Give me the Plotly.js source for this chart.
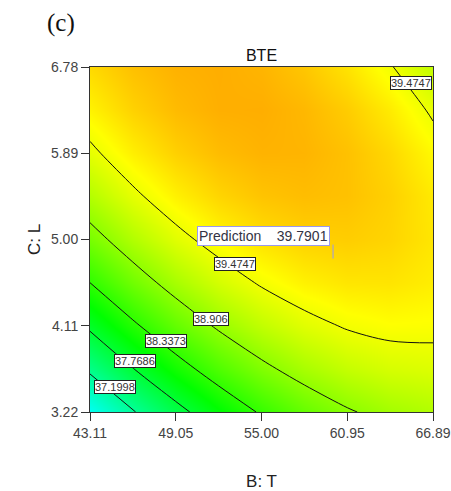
<!DOCTYPE html>
<html>
<head>
<meta charset="utf-8">
<script src="https://cdn.plot.ly/plotly-3.0.1.min.js"></script>
<style>html,body{margin:0;padding:0;background:#fff;}#chart{width:451px;height:491px;}</style>
</head>
<body>
<div id="chart"></div>
<script>
// Factor B: T (x grid) and C: L (y grid)
var tempT = [43.11, 46.08, 49.05, 52.03, 55.00, 57.97, 60.95, 63.92, 66.89];
var lenL = [3.22, 3.665, 4.11, 4.555, 5.00, 5.445, 5.89, 6.335, 6.78];
// BTE response (rows = L, columns = T)
var bteRows = [
  [36.639, 37.169, 37.636, 38.040, 38.380, 38.657, 38.871, 39.022, 39.109],
  [37.275, 37.757, 38.176, 38.532, 38.825, 39.054, 39.221, 39.324, 39.363],
  [37.841, 38.276, 38.647, 38.956, 39.201, 39.382, 39.501, 39.556, 39.548],
  [38.338, 38.725, 39.049, 39.310, 39.507, 39.641, 39.712, 39.719, 39.664],
  [38.766, 39.105, 39.382, 39.594, 39.744, 39.830, 39.854, 39.813, 39.710],
  [39.125, 39.416, 39.645, 39.810, 39.912, 39.951, 39.926, 39.838, 39.687],
  [39.414, 39.658, 39.839, 39.956, 40.011, 40.002, 39.929, 39.794, 39.595],
  [39.634, 39.831, 39.964, 40.033, 40.040, 39.983, 39.863, 39.680, 39.434],
  [39.785, 39.934, 40.019, 40.041, 40.000, 39.896, 39.728, 39.497, 39.203]
];
// contour levels shown on the plot
var levels = [37.1998, 37.7686, 38.3373, 38.906, 39.4747];
var levelLabels = ['37.1998', '37.7686', '38.3373', '38.906', '39.4747', '39.4747'];
var labelT = [44.84, 46.20, 48.41, 51.50, 53.16, 65.36];
var labelL = [3.474, 3.743, 3.955, 4.182, 4.746, 6.614];
var xTicks = [43.11, 49.05, 55.00, 60.95, 66.89];
var xTickText = ['43.11', '49.05', '55.00', '60.95', '66.89'];
var yTicks = [3.22, 4.11, 5.00, 5.89, 6.78];
var yTickText = ['3.22', '4.11', '5.00', '5.89', '6.78'];
var predValue = '39.7901';

var F = 'Liberation Sans, Arial, sans-serif';
var cs = [[0, 'rgb(0,0,255)'], [0.25, 'rgb(0,255,255)'], [0.5, 'rgb(0,255,0)'], [0.75, 'rgb(255,255,0)'], [1, 'rgb(255,0,0)']];

var traces = [
  {type: 'heatmap', x: tempT, y: lenL, z: bteRows, colorscale: cs, zmin: 35.08, zmax: 41.06,
   zsmooth: 'best', showscale: false, hoverinfo: 'skip'},
  {type: 'contour', x: tempT, y: lenL, z: bteRows, showscale: false, hoverinfo: 'skip',
   contours: {coloring: 'none', start: levels[0], end: levels[levels.length - 1] + 0.001,
              size: (levels[levels.length - 1] - levels[0]) / (levels.length - 1), showlines: true},
   line: {color: '#111', width: 1, smoothing: 1.0}}
];

var ann = [];
for (var i = 0; i < levelLabels.length; i++) {
  ann.push({x: labelT[i], y: labelL[i], xref: 'x', yref: 'y', text: levelLabels[i], showarrow: false,
    font: {family: F, size: 11, color: '#333'}, bgcolor: '#fff', bordercolor: '#222', borderwidth: 1, borderpad: 0});
}
ann.push({x: 55.14, y: 5.041, xref: 'x', yref: 'y',
  text: 'Prediction&nbsp;&nbsp;&nbsp;&nbsp;' + predValue, showarrow: false,
  font: {family: F, size: 14, color: '#333344'}, bgcolor: '#fff', bordercolor: '#9999ee', borderwidth: 1, borderpad: 1});
ann.push({xref: 'paper', yref: 'paper', x: -0.085, y: 1.1275, text: '(c)', showarrow: false,
  font: {family: 'Liberation Serif, Times New Roman, serif', size: 25, color: '#111'}, xanchor: 'center', yanchor: 'middle'});

var layout = {
  width: 451, height: 491,
  margin: {l: 90, r: 18, t: 67, b: 79},
  paper_bgcolor: '#fff', plot_bgcolor: '#fff',
  font: {family: F, size: 14, color: '#444'},
  title: {text: 'BTE', font: {family: F, size: 16, color: '#111'}, x: 0.5, xanchor: 'center', xref: 'paper',
          y: 1 - 55 / 491, yref: 'container', yanchor: 'middle'},
  xaxis: {range: [43.11, 66.89], tickvals: xTicks, ticktext: xTickText, ticks: 'outside', ticklen: 8,
          tickcolor: '#333', showline: true, linecolor: '#333', linewidth: 1, mirror: true, showgrid: false,
          zeroline: false, tickfont: {family: F, size: 14, color: '#444'},
          title: {text: 'B: T', font: {family: F, size: 17, color: '#222'}, standoff: 36}},
  yaxis: {range: [3.22, 6.78], tickvals: yTicks, ticktext: yTickText, ticks: 'outside', ticklen: 8,
          tickcolor: '#333', showline: true, linecolor: '#333', linewidth: 1, mirror: true, showgrid: false,
          zeroline: false, tickfont: {family: F, size: 14, color: '#444'},
          title: {text: 'C: L', font: {family: F, size: 17, color: '#222'}, standoff: 6}},
  shapes: [{type: 'line', xref: 'x', yref: 'y', x0: 59.96, x1: 59.96, y0: 4.948, y1: 4.803,
            line: {color: '#9999ee', width: 1}}],
  annotations: ann,
  showlegend: false
};
Plotly.newPlot('chart', traces, layout, {displayModeBar: false, staticPlot: true});
</script>
</body>
</html>
